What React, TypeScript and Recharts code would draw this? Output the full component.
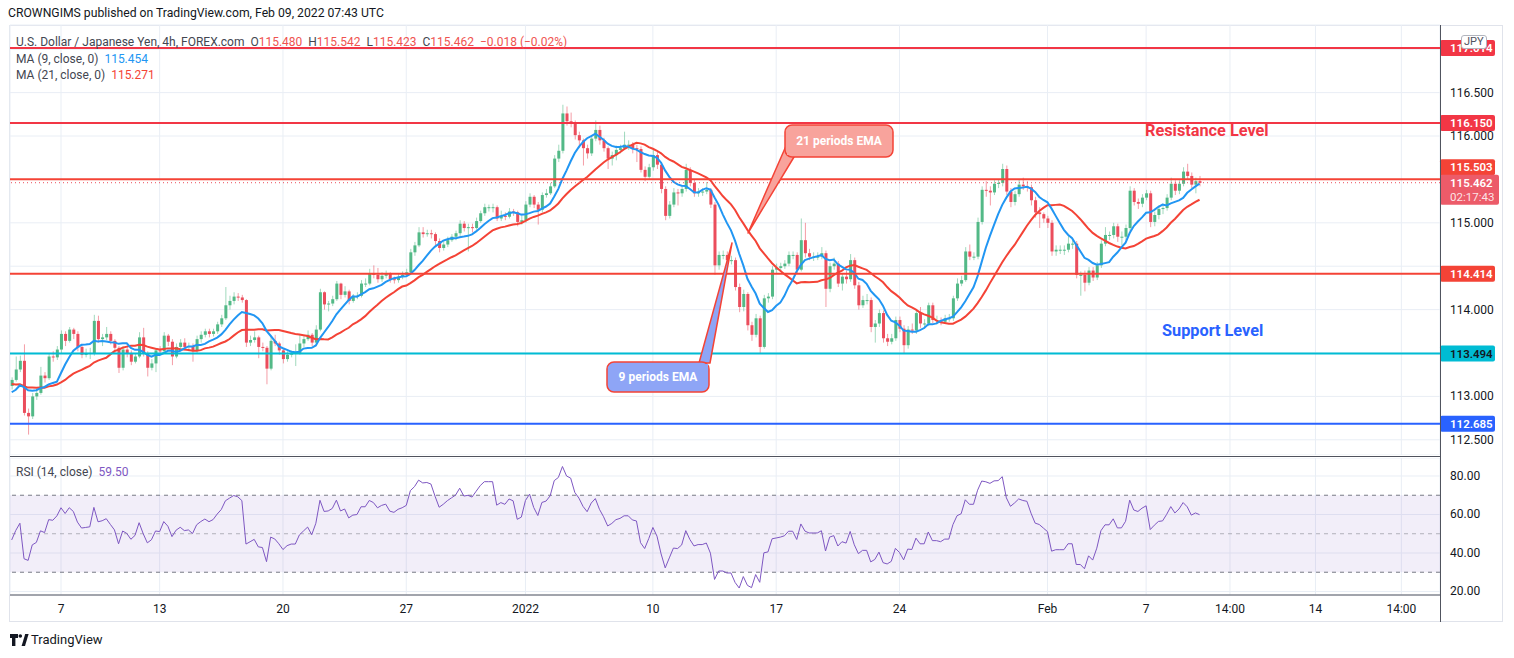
import React from 'react'
import { ComposedChart, Bar, Line, XAxis, YAxis, CartesianGrid, ReferenceLine, ReferenceArea } from 'recharts'

const FONT = 'Roboto, "Liberation Sans", Arial, sans-serif'

// USDJPY 4h closes, Dec 3 2021 00:00 -> Feb 9 2022 04:00
const closes = [
  113.19, 113.31, 113.41, 112.81, 112.77, 113.00, 113.04, 113.24, 113.21, 113.46,
  113.45, 113.54, 113.72, 113.64, 113.77, 113.72, 113.57, 113.48, 113.49, 113.50,
  113.87, 113.66, 113.68, 113.72, 113.64, 113.56, 113.33, 113.54, 113.50, 113.40,
  113.46, 113.68, 113.50, 113.33, 113.38, 113.53, 113.52, 113.70, 113.63, 113.46,
  113.57, 113.62, 113.57, 113.58, 113.53, 113.66, 113.71, 113.75, 113.72, 113.75,
  113.83, 113.90, 114.05, 114.10, 114.15, 114.14, 114.11, 113.62, 113.65, 113.68,
  113.57, 113.56, 113.32, 113.64, 113.61, 113.53, 113.43, 113.48, 113.50, 113.50,
  113.61, 113.66, 113.71, 113.62, 113.77, 114.20, 114.06, 114.07, 114.12, 114.30,
  114.17, 114.21, 114.10, 114.15, 114.16, 114.30, 114.30, 114.42, 114.40, 114.35,
  114.39, 114.41, 114.35, 114.34, 114.38, 114.40, 114.43, 114.66, 114.74, 114.89,
  114.87, 114.88, 114.87, 114.79, 114.71, 114.75, 114.80, 114.84, 114.88, 114.99,
  114.94, 114.95, 114.94, 115.02, 115.11, 115.18, 115.18, 115.18, 115.05, 115.08,
  115.07, 115.13, 115.12, 115.01, 115.03, 115.21, 115.30, 115.21, 115.15, 115.32,
  115.34, 115.42, 115.74, 115.83, 116.26, 116.17, 116.15, 116.01, 115.95, 115.86,
  115.80, 115.97, 116.07, 115.95, 115.86, 115.74, 115.78, 115.84, 115.86, 115.90,
  115.90, 115.86, 115.85, 115.61, 115.53, 115.64, 115.78, 115.67, 115.39, 115.08,
  115.21, 115.35, 115.34, 115.39, 115.61, 115.46, 115.34, 115.36, 115.36, 115.38,
  115.21, 114.51, 114.63, 114.63, 114.57, 114.57, 114.26, 114.03, 114.18, 113.82,
  113.71, 113.90, 113.57, 114.13, 114.15, 114.46, 114.48, 114.50, 114.53, 114.63,
  114.63, 114.46, 114.80, 114.65, 114.61, 114.61, 114.61, 114.65, 114.24, 114.50,
  114.53, 114.30, 114.38, 114.35, 114.57, 114.28, 114.05, 114.11, 114.11, 113.80,
  113.84, 113.96, 113.67, 113.63, 113.67, 113.88, 113.78, 113.59, 113.77, 113.76,
  113.96, 113.84, 113.84, 114.05, 113.88, 113.88, 113.86, 113.90, 113.90, 114.13,
  114.30, 114.34, 114.67, 114.61, 114.61, 115.01, 115.38, 115.37, 115.35, 115.45,
  115.46, 115.62, 115.36, 115.24, 115.33, 115.44, 115.42, 115.41, 115.26, 115.12,
  115.10, 115.05, 115.00, 114.67, 114.69, 114.69, 114.69, 114.76, 114.76, 114.40,
  114.40, 114.31, 114.45, 114.37, 114.51, 114.76, 114.86, 114.86, 114.96, 114.84,
  114.84, 114.94, 115.37, 115.24, 115.22, 115.29, 115.34, 115.01, 115.09, 115.16,
  115.17, 115.29, 115.45, 115.37, 115.45, 115.59, 115.54, 115.44, 115.48, 115.46,
]

const highs = [
  113.22, 113.46, 113.47, 113.60, 112.86, 113.04, 113.09, 113.34, 113.28, 113.49,
  113.52, 113.58, 113.76, 113.75, 113.80, 113.79, 113.75, 113.60, 113.55, 113.56,
  113.94, 113.93, 113.72, 113.80, 113.75, 113.66, 113.58, 113.58, 113.58, 113.53,
  113.50, 113.74, 113.79, 113.52, 113.43, 113.56, 113.58, 113.74, 113.72, 113.66,
  113.61, 113.66, 113.67, 113.62, 113.61, 113.70, 113.75, 113.78, 113.78, 113.78,
  113.86, 113.94, 114.26, 114.16, 114.20, 114.19, 114.17, 114.12, 113.70, 113.75,
  113.70, 113.62, 113.58, 113.69, 113.71, 113.63, 113.55, 113.52, 113.53, 113.60,
  113.72, 113.70, 113.76, 113.73, 113.82, 114.24, 114.21, 114.10, 114.16, 114.33,
  114.31, 114.27, 114.23, 114.18, 114.20, 114.34, 114.36, 114.47, 114.51, 114.48,
  114.43, 114.45, 114.43, 114.38, 114.41, 114.44, 114.47, 114.70, 114.78, 114.95,
  114.95, 114.92, 114.92, 114.89, 114.82, 114.79, 114.84, 114.87, 114.91, 115.03,
  115.02, 114.99, 114.99, 115.06, 115.14, 115.22, 115.21, 115.22, 115.20, 115.14,
  115.12, 115.17, 115.16, 115.14, 115.08, 115.25, 115.34, 115.32, 115.24, 115.35,
  115.39, 115.46, 115.78, 115.90, 116.36, 116.34, 116.27, 116.18, 116.05, 115.97,
  115.90, 116.00, 116.18, 116.12, 115.98, 115.88, 115.82, 115.89, 115.90, 116.05,
  115.95, 115.93, 115.90, 115.88, 115.65, 115.68, 115.84, 115.82, 115.70, 115.42,
  115.25, 115.40, 115.39, 115.43, 115.68, 115.64, 115.50, 115.40, 115.40, 115.47,
  115.40, 115.24, 114.67, 114.68, 114.67, 114.62, 114.60, 114.30, 114.23, 114.20,
  113.86, 113.95, 113.93, 114.17, 114.19, 114.50, 114.53, 114.54, 114.57, 114.67,
  114.67, 114.66, 115.05, 115.00, 114.70, 114.66, 114.66, 114.72, 114.68, 114.54,
  114.60, 114.56, 114.42, 114.45, 114.64, 114.60, 114.32, 114.16, 114.18, 114.14,
  113.88, 114.00, 113.99, 113.72, 113.72, 113.92, 113.92, 113.82, 113.81, 113.84,
  114.00, 114.03, 113.89, 114.08, 114.08, 113.93, 113.91, 113.94, 113.95, 114.16,
  114.36, 114.39, 114.72, 114.75, 114.66, 115.06, 115.42, 115.48, 115.42, 115.49,
  115.50, 115.68, 115.66, 115.40, 115.37, 115.50, 115.52, 115.48, 115.44, 115.30,
  115.18, 115.12, 115.08, 115.03, 114.74, 114.74, 114.74, 114.86, 114.80, 114.79,
  114.44, 114.45, 114.49, 114.49, 114.55, 114.80, 114.95, 114.90, 115.00, 114.99,
  114.90, 114.98, 115.42, 115.40, 115.28, 115.33, 115.38, 115.37, 115.13, 115.20,
  115.22, 115.33, 115.52, 115.49, 115.49, 115.64, 115.68, 115.58, 115.52, 115.54,
]

const lows = [
  113.08, 113.17, 113.28, 112.78, 112.56, 112.74, 112.96, 113.02, 113.16, 113.19,
  113.40, 113.42, 113.50, 113.58, 113.62, 113.66, 113.52, 113.44, 113.45, 113.43,
  113.47, 113.62, 113.58, 113.65, 113.60, 113.50, 113.27, 113.30, 113.45, 113.36,
  113.38, 113.44, 113.46, 113.23, 113.30, 113.28, 113.48, 113.50, 113.58, 113.36,
  113.44, 113.54, 113.53, 113.52, 113.40, 113.50, 113.62, 113.68, 113.68, 113.69,
  113.72, 113.80, 113.88, 114.00, 114.06, 114.10, 114.08, 113.57, 113.58, 113.62,
  113.44, 113.52, 113.14, 113.30, 113.58, 113.48, 113.38, 113.40, 113.45, 113.35,
  113.48, 113.57, 113.64, 113.58, 113.60, 113.75, 114.00, 113.98, 114.04, 114.10,
  114.12, 114.14, 114.06, 114.08, 114.12, 114.14, 114.26, 114.28, 114.36, 114.31,
  114.32, 114.36, 114.31, 114.30, 114.31, 114.35, 114.38, 114.41, 114.62, 114.72,
  114.83, 114.84, 114.82, 114.74, 114.66, 114.68, 114.72, 114.78, 114.80, 114.85,
  114.90, 114.67, 114.89, 114.92, 115.00, 115.08, 115.13, 115.12, 115.02, 115.02,
  115.03, 115.05, 115.08, 114.96, 114.98, 115.00, 115.18, 115.17, 114.98, 115.12,
  115.29, 115.32, 115.40, 115.70, 115.80, 116.12, 116.10, 115.96, 115.86, 115.66,
  115.74, 115.77, 115.94, 115.90, 115.82, 115.62, 115.66, 115.72, 115.80, 115.84,
  115.84, 115.80, 115.70, 115.58, 115.48, 115.50, 115.60, 115.62, 115.34, 115.03,
  115.05, 115.18, 115.20, 115.30, 115.36, 115.42, 115.30, 115.30, 115.31, 115.33,
  115.17, 114.40, 114.46, 114.58, 114.52, 114.52, 114.22, 113.97, 113.98, 113.76,
  113.64, 113.68, 113.50, 113.55, 114.08, 114.12, 114.42, 114.44, 114.47, 114.50,
  114.58, 114.42, 114.44, 114.60, 114.57, 114.56, 114.57, 114.58, 114.03, 114.20,
  114.46, 114.26, 114.22, 114.30, 114.32, 114.24, 114.00, 114.02, 114.06, 113.74,
  113.62, 113.80, 113.62, 113.58, 113.60, 113.64, 113.74, 113.50, 113.55, 113.72,
  113.72, 113.79, 113.78, 113.81, 113.84, 113.83, 113.82, 113.84, 113.86, 113.87,
  114.10, 114.27, 114.32, 114.57, 114.57, 114.58, 114.98, 115.30, 115.20, 115.32,
  115.40, 115.42, 115.32, 115.18, 115.20, 115.30, 115.38, 115.36, 115.20, 115.06,
  114.94, 115.00, 114.94, 114.62, 114.62, 114.64, 114.63, 114.66, 114.70, 114.36,
  114.16, 114.21, 114.28, 114.33, 114.34, 114.48, 114.73, 114.80, 114.82, 114.78,
  114.74, 114.80, 114.90, 115.20, 115.16, 115.18, 115.26, 114.95, 114.96, 115.04,
  115.10, 115.14, 115.26, 115.32, 115.33, 115.42, 115.50, 115.40, 115.34, 115.42,
]

const firstOpen = 113.12
// closes before the visible window, only used to warm up MA / RSI
const priorCloses = [
  113.40, 113.35, 113.30, 113.10, 112.95, 113.10, 113.20, 113.25, 113.15, 113.30,
  113.25, 113.20, 113.05, 112.95, 113.00, 113.10, 113.05, 112.98, 113.02, 113.09,
]

const timeTicks = [12, 36, 66, 96, 125, 156, 186, 216, 252, 276, 296.4, 317.2, 338.1]
const timeLabels = ['7', '13', '20', '27', '2022', '10', '17', '24', 'Feb', '7', '14:00', '14', '14:00']
const gridPrices = [112.5, 113, 113.5, 114, 114.5, 115, 115.5, 116, 116.5, 117]
const labelledPrices = [112.5, 113, 114, 115, 116, 116.5]
const rsiTicks = [20, 40, 60, 80]

const X_DOMAIN: [number, number] = [-0.41, 347.5]
const P_DOMAIN: [number, number] = [112.325, 117.279]
const R_DOMAIN: [number, number] = [18.18, 89.35]

const all = [...priorCloses, ...closes]
const warm = priorCloses.length

function sma(len: number) {
  return closes.map((_, i) => {
    const end = warm + i
    let s = 0
    for (let k = end - len + 1; k <= end; k++) s += all[k]
    return s / len
  })
}

function rsi(len: number) {
  const out: number[] = new Array(all.length).fill(NaN)
  let ag = 0
  let al = 0
  for (let k = 1; k < all.length; k++) {
    const ch = all[k] - all[k - 1]
    const g = Math.max(ch, 0)
    const l = Math.max(-ch, 0)
    if (k <= len) {
      ag += g / len
      al += l / len
    } else {
      ag = (ag * (len - 1) + g) / len
      al = (al * (len - 1) + l) / len
    }
    if (k >= len) out[k] = al === 0 ? 100 : 100 - 100 / (1 + ag / al)
  }
  return out.slice(warm)
}

const ma9 = sma(9)
const ma21 = sma(21)
const rsi14 = rsi(14)

const candles = closes.map((c, i) => {
  const open = i === 0 ? firstOpen : closes[i - 1]
  return {
    i,
    open,
    close: c,
    high: Math.max(highs[i], open, c),
    low: Math.min(lows[i], open, c),
    ma9: ma9[i],
    ma21: ma21[i],
    rsi: rsi14[i],
  }
})

const UP = '#53b987'
const DOWN = '#eb4d5c'

const Candle = (props: any) => {
  const { x, y, width, height, payload } = props
  if (!payload || height == null) return <g />
  const { open, close, high, low } = payload
  const top = Math.min(y, y + height)
  const h = Math.abs(height)
  const k = high > low ? h / (high - low) : 0
  const bodyTop = top + (high - Math.max(open, close)) * k
  const bodyH = Math.max(1, Math.abs(open - close) * k)
  const cx = x + width / 2
  const col = close >= open ? UP : DOWN
  return (
    <g>
      <line x1={cx} x2={cx} y1={top} y2={top + h} stroke={col} strokeOpacity={0.55} strokeWidth={1} />
      <rect x={x} y={bodyTop} width={width} height={bodyH} fill={col} />
    </g>
  )
}

const PriceTick = (props: any) => {
  const { x, y, payload } = props
  if (!labelledPrices.includes(payload.value)) return <g />
  return (
    <text x={x + 2} y={y + 4} fontSize={12} fill="#131722" fontFamily={FONT}>
      {payload.value.toFixed(3)}
    </text>
  )
}

const RsiTick = (props: any) => {
  const { x, y, payload } = props
  return (
    <text x={x + 2} y={y + 4} fontSize={12} fill="#131722" fontFamily={FONT}>
      {payload.value.toFixed(2)}
    </text>
  )
}

const TimeTick = (props: any) => {
  const { x, y, payload } = props
  const n = timeTicks.indexOf(payload.value)
  return (
    <text x={x} y={y + 10} textAnchor="middle" fontSize={12} fill="#131722" fontFamily={FONT}>
      {n >= 0 ? timeLabels[n] : ''}
    </text>
  )
}

const PriceTag = (props: any) => {
  const { viewBox, text, bg, color = '#fff', dy = 0, sub } = props
  if (!viewBox) return <g />
  const x = viewBox.x + viewBox.width
  const y = viewBox.y + dy
  const h = sub ? 30 : 16
  const w = sub ? 59 : 55
  return (
    <g>
      <rect x={x} y={y - 8} width={w} height={h} rx={2} fill={bg} />
      <text x={x + 10} y={y + 4} fontSize={11.5} fontWeight={600} fill={color} fontFamily={FONT}>
        {text}
      </text>
      {sub && (
        <text x={x + 10} y={y + 18} fontSize={11.5} fill={color} fillOpacity={0.85} fontFamily={FONT}>
          {sub}
        </text>
      )}
    </g>
  )
}

const levels = [
  { v: 117.014, c: '#f23645', text: '117.014' },
  { v: 116.15, c: '#f23645', text: '116.150' },
  { v: 115.503, c: '#f44336', text: '115.503', dy: -12 },
  { v: 114.414, c: '#f44336', text: '114.414' },
  { v: 113.494, c: '#00bcd4', text: '113.494', color: '#131722' },
  { v: 112.685, c: '#2962ff', text: '112.685' },
]

const txt = (s: React.CSSProperties): React.CSSProperties => ({ position: 'absolute', whiteSpace: 'nowrap', ...s })

export default function App() {
  return (
    <div style={{ position: 'absolute', left: 0, top: 0, width: 1514, height: 658, background: '#fff', fontFamily: FONT, overflow: 'hidden' }}>
      <div style={txt({ left: 8, top: 6, fontSize: 12.2, color: '#131722' })}>
        CROWNGIMS published on TradingView.com, Feb 09, 2022 07:43 UTC
      </div>
      <div style={{ position: 'absolute', left: 9, top: 25, width: 1494, height: 597, border: '1px solid #e0e3eb', boxSizing: 'border-box' }} />

      <div style={{ position: 'absolute', left: 0, top: 0 }}>
        <ComposedChart width={1514} height={455} data={candles} margin={{ top: 25, right: 14, bottom: 0, left: 10 }}>
          <CartesianGrid stroke="#e9eef5" />
          <XAxis type="number" dataKey="i" domain={X_DOMAIN} allowDataOverflow ticks={timeTicks} hide />
          <YAxis
            orientation="right"
            width={60}
            domain={P_DOMAIN}
            allowDataOverflow
            ticks={gridPrices}
            interval={0}
            axisLine={false}
            tickLine={false}
            tick={<PriceTick />}
          />
          <Bar dataKey={(d: any) => [d.low, d.high]} barSize={3} shape={<Candle />} isAnimationActive={false} />
          <Line dataKey="ma21" type="linear" stroke="#f44336" strokeWidth={2} dot={false} isAnimationActive={false} />
          <Line dataKey="ma9" type="linear" stroke="#2196f3" strokeWidth={2} dot={false} isAnimationActive={false} />
          {levels.map((l) => (
            <ReferenceLine
              key={l.text}
              y={l.v}
              stroke={l.c}
              strokeWidth={2}
              label={<PriceTag text={l.text} bg={l.c} color={l.color} dy={l.dy || 0} />}
            />
          ))}
          <ReferenceLine
            y={115.462}
            stroke="#eb4d5c"
            strokeDasharray="1 3"
            label={<PriceTag text="115.462" sub="02:17:43" bg="#ec5b69" dy={0} />}
          />
        </ComposedChart>
      </div>

      <div style={{ position: 'absolute', left: 0, top: 458 }}>
        <ComposedChart width={1514} height={200} data={candles} margin={{ top: 0, right: 14, bottom: 36, left: 10 }}>
          <CartesianGrid stroke="#e9eef5" />
          <ReferenceArea y1={30} y2={70} fill="#7e57c2" fillOpacity={0.1} stroke="none" />
          <XAxis
            type="number"
            dataKey="i"
            domain={X_DOMAIN}
            allowDataOverflow
            ticks={timeTicks}
            interval={0}
            height={27}
            stroke="#50535e"
            tickLine={false}
            tick={<TimeTick />}
          />
          <YAxis
            orientation="right"
            width={60}
            domain={R_DOMAIN}
            allowDataOverflow
            ticks={rsiTicks}
            interval={0}
            axisLine={false}
            tickLine={false}
            tick={<RsiTick />}
          />
          <ReferenceLine y={70} stroke="#787b86" strokeDasharray="4 4" />
          <ReferenceLine y={50} stroke="#9598a1" strokeOpacity={0.7} strokeDasharray="4 4" />
          <ReferenceLine y={30} stroke="#787b86" strokeDasharray="4 4" />
          <Line dataKey="rsi" type="linear" stroke="#7e57c2" strokeWidth={1} dot={false} isAnimationActive={false} />
        </ComposedChart>
      </div>

      {/* pane separators and price scale border */}
      <div style={{ position: 'absolute', left: 10, top: 456, width: 1430, height: 1, background: '#50535e' }} />
      <div style={{ position: 'absolute', left: 1440, top: 25, width: 1, height: 597, background: '#50535e' }} />

      {/* legends */}
      <div style={txt({ left: 16, top: 35, fontSize: 12, color: '#434651' })}>
        U.S. Dollar / Japanese Yen, 4h, FOREX.com&nbsp; O<span style={{ color: '#ef5350' }}>115.480</span>&nbsp; H
        <span style={{ color: '#ef5350' }}>115.542</span>&nbsp; L<span style={{ color: '#ef5350' }}>115.423</span>&nbsp; C
        <span style={{ color: '#ef5350' }}>115.462</span>&nbsp; <span style={{ color: '#ef5350' }}>−0.018 (−0.02%)</span>
      </div>
      <div style={txt({ left: 16, top: 52, fontSize: 12, color: '#434651' })}>
        MA (9, close, 0)&nbsp; <span style={{ color: '#2196f3' }}>115.454</span>
      </div>
      <div style={txt({ left: 16, top: 68, fontSize: 12, color: '#434651' })}>
        MA (21, close, 0)&nbsp; <span style={{ color: '#f44336' }}>115.271</span>
      </div>
      <div style={txt({ left: 16, top: 465, fontSize: 12, color: '#434651' })}>
        RSI (14, close)&nbsp; <span style={{ color: '#7e57c2' }}>59.50</span>
      </div>

      <div
        style={txt({
          left: 1461,
          top: 35,
          fontSize: 11,
          color: '#50535e',
          background: '#fff',
          border: '1px solid #b2b5be',
          borderRadius: 3,
          padding: '0 2px',
          lineHeight: '12px',
        })}
      >
        JPY
      </div>

      {/* drawings */}
      <svg width={1514} height={658} style={{ position: 'absolute', left: 0, top: 0, pointerEvents: 'none' }}>
        <polygon points="786,146 748,233 794,157" fill="#f8a39c" stroke="#f44336" strokeWidth={1.5} strokeLinejoin="round" />
        <rect x={785} y={125} width={108} height={32} rx={7} fill="#f8a39c" stroke="#f44336" strokeWidth={1.5} />
        <rect x={787} y={140} width={10} height={15} fill="#f8a39c" />
        <text x={839} y={145} textAnchor="middle" fontSize={12} fontWeight="bold" fill="#fff" fontFamily={FONT}>
          21 periods EMA
        </text>

        <polygon points="699,363 732,243 710,363" fill="#8ea5f6" stroke="#f44336" strokeWidth={1.5} strokeLinejoin="round" />
        <rect x={607} y={362} width={102} height={30} rx={7} fill="#8ea5f6" stroke="#f44336" strokeWidth={1.5} />
        <rect x={698} y={364} width={10} height={8} fill="#8ea5f6" />
        <text x={658} y={381} textAnchor="middle" fontSize={12} fontWeight="bold" fill="#fff" fontFamily={FONT}>
          9 periods EMA
        </text>

        <text x={1145} y={136} fontSize={16.3} fontWeight="bold" fill="#f23645" fontFamily={FONT}>
          Resistance Level
        </text>
        <text x={1162} y={336} fontSize={16.3} fontWeight="bold" fill="#2962ff" fontFamily={FONT}>
          Support Level
        </text>

        <g fill="#131722">
          <path d="M10 634h8v4h-2.6v8h-3.4v-8H10z" />
          <circle cx={20.3} cy={636} r={1.8} />
          <path d="M21.6 646 L25.2 634 H28.6 L25 646Z" />
        </g>
      </svg>
      <div style={txt({ left: 31, top: 632, fontSize: 13, color: '#131722' })}>TradingView</div>
    </div>
  )
}
